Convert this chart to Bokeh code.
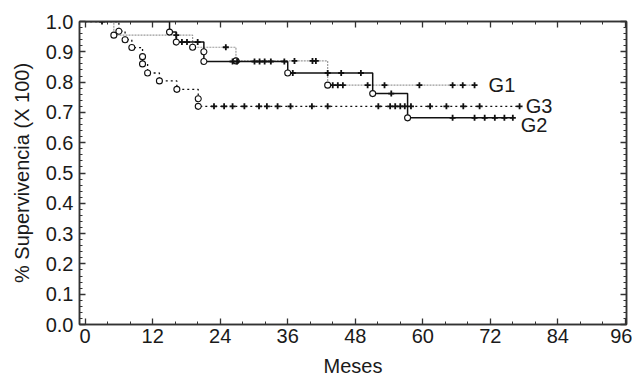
from bokeh.plotting import figure
from bokeh.models import LinearAxis, FixedTicker, NumeralTickFormatter, Range1d, Label
from bokeh.embed import file_html
from bokeh.resources import INLINE

# ---------------- data ----------------
x_ticks = [0, 12, 24, 36, 48, 60, 72, 84, 96]
y_ticks = [0.0, 0.1, 0.2, 0.3, 0.4, 0.5, 0.6, 0.7, 0.8, 0.9, 1.0]
x_title = "Meses"
y_title = "% Supervivencia (X 100)"
group_names = ["G1", "G2", "G3"]

# event times (months) and survival after each event
g1_event_t = [5.1, 19.1, 26.8, 43.1]
g1_event_s = [0.955, 0.915, 0.870, 0.790]
g1_cens_t = [3.0, 16.2, 25.0, 37.2, 40.4, 41.0, 44.0, 44.9, 45.8, 50.2, 53.2, 59.4, 65.3, 67.1, 69.2]

g2_event_t = [15.0, 16.2, 21.1, 21.1, 36.0, 51.1, 57.3]
g2_event_s = [0.965, 0.932, 0.900, 0.868, 0.830, 0.762, 0.682]
g2_cens_t = [17.2, 18.1, 20.0, 26.2, 27.0, 30.1, 31.0, 31.9, 33.0, 35.4, 36.9, 43.1, 45.5, 49.0,
             54.4, 65.3, 69.2, 71.0, 72.8, 74.5, 76.0]

g3_event_t = [6.0, 7.1, 8.3, 10.2, 10.2, 11.1, 13.2, 16.3, 20.1, 20.1]
g3_event_s = [0.968, 0.940, 0.914, 0.884, 0.860, 0.830, 0.804, 0.776, 0.745, 0.720]
g3_cens_t = [22.9, 24.7, 26.2, 28.3, 30.9, 32.3, 34.2, 36.5, 40.3, 43.1, 52.1, 54.2, 55.1, 56.0,
             56.8, 57.9, 61.3, 64.2, 67.2, 70.1, 77.2]

# ---------------- styles ----------------
TXT = "#1a1a1a"
FONT = "Liberation Sans"
styles = {
    "G1": dict(color="#9a9a9a", dash="2 1", width=1.2, label_dx=2.5, label_dy=0.0),
    "G2": dict(color="#111111", dash="solid", width=1.5, label_dx=1.4, label_dy=-0.025),
    "G3": dict(color="#111111", dash="2 3", width=1.3, label_dx=1.1, label_dy=0.0),
}
series = {
    "G1": (g1_event_t, g1_event_s, g1_cens_t),
    "G2": (g2_event_t, g2_event_s, g2_cens_t),
    "G3": (g3_event_t, g3_event_s, g3_cens_t),
}


def surv_at(t, ev_t, ev_s):
    s = 1.0
    for et, es in zip(ev_t, ev_s):
        if et <= t:
            s = es
    return s


p = figure(width=632, height=383, output_backend="svg", toolbar_location=None,
           x_range=Range1d(-1.0, 96.2), y_range=Range1d(0.0, 1.0),
           min_border_left=79, min_border_right=6, min_border_top=21, min_border_bottom=59,
           background_fill_color="white", border_fill_color="white")
p.grid.visible = False
p.outline_line_color = "#333333"
p.outline_line_width = 1.5

# lines
for g in ["G1", "G3", "G2"]:
    ev_t, ev_s, c_t = series[g]
    st = styles[g]
    last = max(c_t + ev_t)
    xs = [0.0] + ev_t + [last]
    ys = [1.0] + ev_s + [ev_s[-1]]
    p.step(xs, ys, mode="after", line_color=st["color"], line_dash=st["dash"], line_width=st["width"])

# markers
for g in ["G1", "G3", "G2"]:
    ev_t, ev_s, c_t = series[g]
    cy = [surv_at(t, ev_t, ev_s) for t in c_t]
    p.scatter(c_t, cy, marker="cross", size=6, line_color="#111111", line_width=1.8)
    p.scatter(ev_t, ev_s, marker="circle", size=6, line_color="#111111", fill_color="white", line_width=1.1)

# group labels
for g in group_names:
    ev_t, ev_s, c_t = series[g]
    st = styles[g]
    last = max(c_t + ev_t)
    p.add_layout(Label(x=last + st["label_dx"], y=ev_s[-1] + st["label_dy"], text=g,
                       text_font=FONT, text_font_size="20px", text_color=TXT,
                       text_align="left", text_baseline="middle"))

# axes
xt = FixedTicker(ticks=x_ticks, minor_ticks=[v for v in range(0, 97, 4)])
yt = FixedTicker(ticks=y_ticks, minor_ticks=[i * 0.02 for i in range(51)])


def style_axis(ax, show_labels):
    ax.axis_line_color = "#333333"
    ax.axis_line_width = 1.5
    ax.major_tick_in = 6
    ax.major_tick_out = 0
    ax.minor_tick_in = 3
    ax.minor_tick_out = 0
    ax.major_tick_line_color = "#333333"
    ax.minor_tick_line_color = "#333333"
    ax.major_tick_line_width = 1.3
    ax.minor_tick_line_width = 1.0
    if show_labels:
        ax.major_label_text_font = FONT
        ax.major_label_text_font_size = "20px"
        ax.major_label_text_color = TXT
        ax.axis_label_text_font = FONT
        ax.axis_label_text_font_size = "20px"
        ax.axis_label_text_font_style = "normal"
        ax.axis_label_text_color = TXT
    else:
        ax.major_label_overrides = {t: "" for t in ax.ticker.ticks}
        ax.major_label_standoff = 0


xa = p.xaxis[0]
xa.ticker = xt
xa.axis_label = x_title
xa.major_label_standoff = 4
xa.axis_label_standoff = 9
style_axis(xa, True)
# the reference's x title sits left of the frame centre
xa.axis_label_text_align = "right"

ya = p.yaxis[0]
ya.ticker = yt
ya.formatter = NumeralTickFormatter(format="0.0")
ya.axis_label = y_title
ya.major_label_standoff = 6
ya.axis_label_standoff = 10
style_axis(ya, True)

top = LinearAxis(ticker=xt)
style_axis(top, False)
p.add_layout(top, "above")
right = LinearAxis(ticker=yt)
style_axis(right, False)
p.add_layout(right, "right")

open("out.html", "w").write(file_html(p, INLINE))
